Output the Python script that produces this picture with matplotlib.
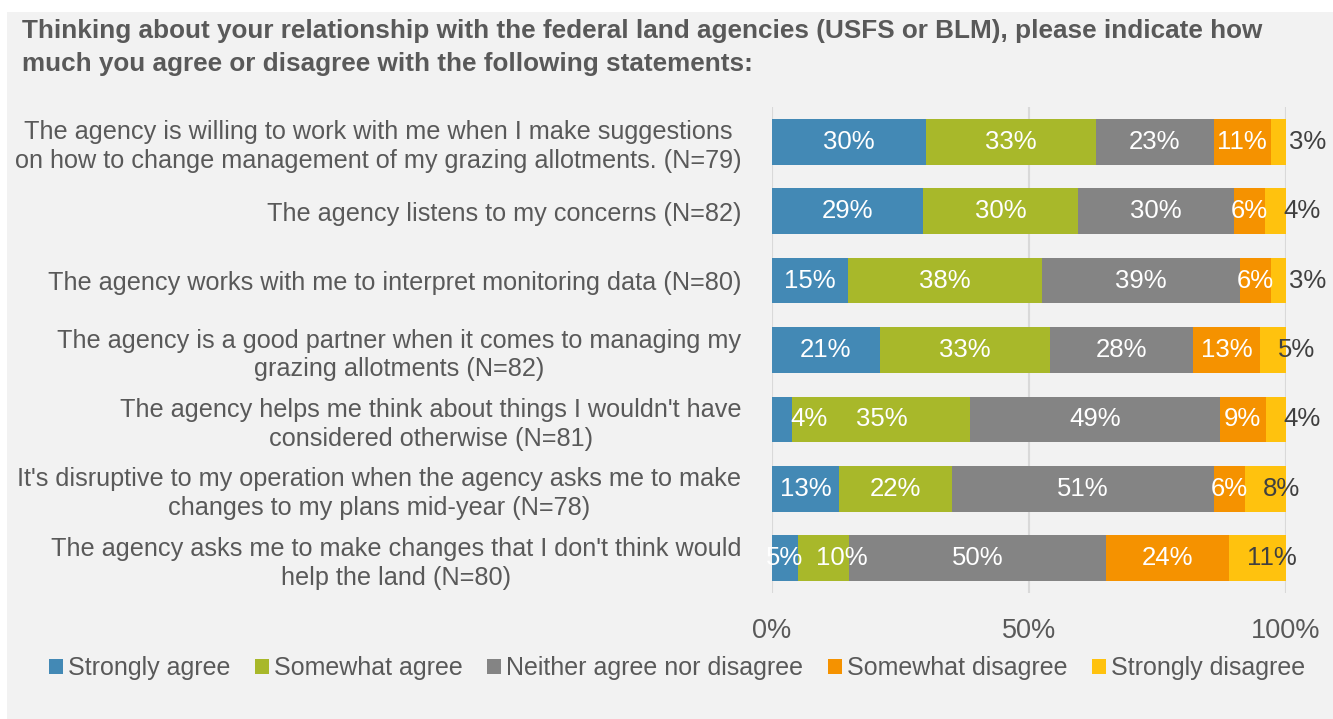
import matplotlib
matplotlib.use("Agg")
import matplotlib.pyplot as plt
import numpy as np
from matplotlib.patches import Patch

categories = [
    "The agency is willing to work with me when I make suggestions\non how to change management of my grazing allotments. (N=79)",
    "The agency listens to my concerns (N=82)",
    "The agency works with me to interpret monitoring data (N=80)",
    "The agency is a good partner when it comes to managing my\ngrazing allotments (N=82)",
    "The agency helps me think about things I wouldn't have\nconsidered otherwise (N=81)",
    "It's disruptive to my operation when the agency asks me to make\nchanges to my plans mid-year (N=78)",
    "The agency asks me to make changes that I don't think would\nhelp the land (N=80)",
]
series_names = ["Strongly agree", "Somewhat agree", "Neither agree nor disagree",
                "Somewhat disagree", "Strongly disagree"]
strongly_agree = [30, 29, 15, 21, 4, 13, 5]
somewhat_agree = [33, 30, 38, 33, 35, 22, 10]
neither = [23, 30, 39, 28, 49, 51, 50]
somewhat_disagree = [11, 6, 6, 13, 9, 6, 24]
strongly_disagree = [3, 4, 3, 5, 4, 8, 11]
x_ticks = [0, 50, 100]
x_tick_labels = ["0%", "50%", "100%"]
title = ("Thinking about your relationship with the federal land agencies (USFS or BLM), please indicate how\n"
         "much you agree or disagree with the following statements:")

colors = ["#4389B5", "#A8B82A", "#848484", "#F59200", "#FFC20E"]
label_colors = ["white", "white", "white", "white", "#404040"]
bg = "#F2F2F2"
txt = "#595959"
FONT = "Liberation Sans"
plt.rcParams["font.family"] = [FONT, "DejaVu Sans"]

W, H = 1333, 719
fig = plt.figure(figsize=(W / 100, H / 100), dpi=100)
fig.patch.set_facecolor("white")
fig.patches.append(plt.Rectangle((7 / W, 0), 1 - 7 / W, 1 - 12 / H, transform=fig.transFigure,
                                 facecolor=bg, edgecolor="none", zorder=-10))

ax_px_w = 1286 - 772
ax = fig.add_axes([772 / W, 1 - 593 / H, ax_px_w / W, (593 - 107) / H])
ax.patch.set_alpha(0)

LBL_FS = 18.5
px_per_pt = 100 / 72


def est_width_pct(s):
    # approximate text width (in % of axis) for digit/percent strings
    em = sum(0.889 if c == "%" else 0.556 for c in s)
    return em * LBL_FS * px_per_pt / ax_px_w * 100


data = np.array([strongly_agree, somewhat_agree, neither, somewhat_disagree, strongly_disagree], dtype=float)
totals = data.sum(axis=0)
pct = data / totals * 100
n = len(categories)
y = np.arange(n)
left = np.zeros(n)
prev_right = np.full(n, -100.0)
for i in range(len(series_names)):
    ax.barh(y, pct[i], left=left, height=0.66, color=colors[i], edgecolor="none",
            label=series_names[i], zorder=3)
    for j in range(n):
        w = pct[i][j]
        s = f"{int(data[i][j])}%"
        tw = est_width_pct(s)
        cx = left[j] + w / 2
        if i == len(series_names) - 1 or w < 4.5 or cx - tw / 2 < prev_right[j] + 0.5:
            x0 = left[j] + 3.5
            ax.text(x0, y[j], s, ha="left", va="center",
                    color=label_colors[i], fontsize=LBL_FS, zorder=5, clip_on=False)
            prev_right[j] = x0 + tw
        else:
            ax.text(cx, y[j], s, ha="center", va="center",
                    color=label_colors[i], fontsize=LBL_FS, zorder=5)
            prev_right[j] = cx + tw / 2
    left += pct[i]

ax.set_xlim(0, 100)
ax.set_ylim(n - 0.5, -0.5)
ax.set_xticks(x_ticks)
ax.set_xticklabels(x_tick_labels)
ax.set_yticks(y)
ax.set_yticklabels(categories)
for t in ax.get_yticklabels():
    t.set_multialignment("center")
    t.set_linespacing(1.25)
ax.tick_params(axis="y", length=0, pad=22, labelsize=18.2, labelcolor=txt)
ax.tick_params(axis="x", length=0, pad=18, labelsize=19.5, labelcolor=txt)
ax.grid(axis="x", color="#D9D9D9", linewidth=1.5, zorder=0)
for s in ax.spines.values():
    s.set_visible(False)

fig.text(22 / W, 1 - 19 / H, title, ha="left", va="top", fontsize=18.8, fontweight="bold",
         color=txt, linespacing=1.45)

handles = [Patch(facecolor=c, edgecolor="none") for c in colors]
fig.legend(handles, series_names, loc="center", bbox_to_anchor=(677 / W, 1 - 668 / H), ncol=5,
           frameon=False, fontsize=18, labelcolor=txt, handlelength=0.55, handleheight=0.55,
           handletextpad=0.2, columnspacing=1.0)

fig.savefig("out.png", dpi=100, facecolor=fig.get_facecolor())
